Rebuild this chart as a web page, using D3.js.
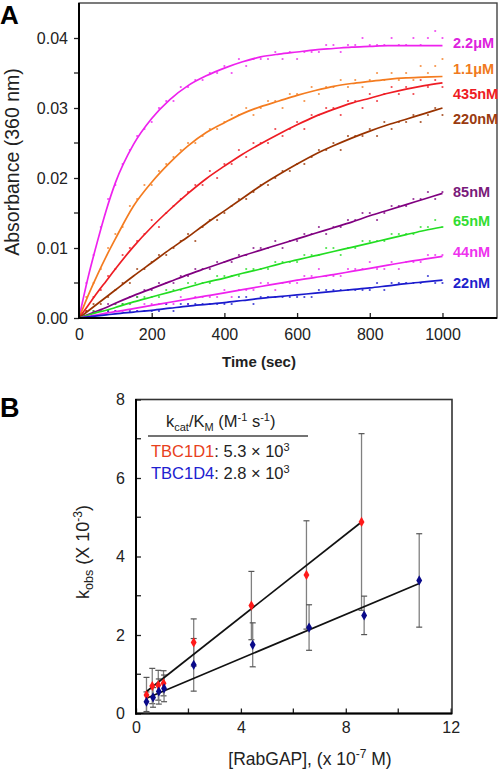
<!DOCTYPE html>
<html><head><meta charset="utf-8">
<script src="https://cdn.jsdelivr.net/npm/d3@7"></script>
<style>
body{margin:0;background:#fff;}
svg{display:block;font-family:Arial,"Liberation Sans",sans-serif;}
</style>
</head><body>
<svg id="c" width="500" height="770"></svg>
<script>
// ---------------- Panel A data (absorbance in milli-units) ----------------
const seriesNames = ["2.2μM","1.1μM","435nM","220nM","85nM","65nM","44nM","22nM"];
const lineColors  = ["#ee22ee","#f47c20","#ee1c24","#993300","#800080","#22dd22","#ee22ee","#1a1acd"];
const labelColors = ["#dd22dd","#f07a20","#ee1c24","#9a3b10","#7a1a7a","#33dd33","#ee33ee","#1f1fcc"];
const labelLevels = [0.0393,0.0356,0.0320,0.0284,0.0181,0.0139,0.0094,0.0051];

const curveTimes = [0,25,50,75,100,150,200,250,300,350,400,450,500,550,600,650,700,750,800,850,900,950,1000];
const fit2200 = [0,5.8,10.8,15.4,19.3,24.8,28.5,31.2,33.2,34.6,35.7,36.6,37.3,37.7,38.0,38.3,38.5,38.7,38.8,38.9,38.9,38.9,38.9];
const fit1100 = [0,3.2,6.1,8.8,11.3,16.0,19.4,22.2,24.6,26.5,27.9,29.2,30.2,31.0,31.8,32.5,33.1,33.5,33.8,34.1,34.3,34.4,34.5];
const fit435  = [0,1.8,3.6,5.3,7.0,10.2,13.0,15.5,17.8,19.9,21.7,23.4,24.9,26.3,27.6,28.8,29.8,30.7,31.4,32.1,32.7,33.2,33.6];
const fit220  = [0,1.0,2.0,3.0,4.0,6.0,7.9,9.8,11.6,13.5,15.3,17.1,18.9,20.5,22.0,23.4,24.6,25.7,26.7,27.6,28.4,29.2,30.0];
const fit85   = [0,0.5,1.0,1.5,2.1,3.2,4.2,5.2,6.2,7.1,8.0,8.9,9.7,10.5,11.3,12.1,12.9,13.7,14.6,15.4,16.2,17.0,17.8];
const fit65   = [0,0.4,0.8,1.1,1.5,2.3,3.0,3.7,4.4,5.1,5.7,6.4,7.0,7.7,8.3,8.9,9.5,10.1,10.7,11.3,11.9,12.5,13.0];
const fit44   = [0,0.2,0.45,0.7,0.9,1.35,1.8,2.25,2.7,3.15,3.6,4.05,4.5,4.95,5.4,5.8,6.2,6.65,7.1,7.55,8.0,8.4,8.8];
const fit22   = [0,0.15,0.3,0.45,0.6,0.85,1.1,1.4,1.7,1.95,2.2,2.5,2.8,3.05,3.3,3.55,3.8,4.05,4.3,4.6,4.9,5.15,5.4];

// raw readings every 20 s (t = 20 ... 1000), milli-absorbance
const dotTimes = d3.range(20, 1001, 20);
const obs2200 = [5,9,13,17,19,22,24,26,27,28,30,31,31,33,33,34,34,35,35,36,35,37,36,37,37,37,38,37,38,37,38,38,38,39,39,38,39,39,40,39,39,39,40,39,39,40,39,40,41,40];
const obs1100 = [3,5,7,10,12,13,16,17,19,19,21,22,23,24,25,25,26,27,27,28,29,29,30,29,30,31,31,30,32,32,31,33,32,33,33,34,33,34,33,34,35,34,35,34,35,34,36,35,36,37];
const obs435  = [1,3,4,6,7,9,10,11,12,14,13,15,16,17,18,19,19,21,20,22,22,24,23,25,25,25,27,26,27,28,27,29,29,30,30,29,31,31,30,32,31,32,33,32,33,32,34,33,34,33];
const obs220  = [1,2,2,3,4,5,5,7,7,8,9,9,10,11,12,11,13,14,14,15,16,17,17,18,19,19,20,21,21,22,22,23,24,24,25,24,26,26,26,27,26,28,27,28,28,29,28,29,30,29];
const obs85   = [0,1,1,2,2,2,3,3,4,4,5,5,5,6,6,7,7,7,8,8,8,9,9,10,10,10,11,10,11,11,12,12,13,12,13,13,14,14,15,15,14,15,16,16,16,17,17,18,17,18];
const obs65   = [0,1,1,1,2,2,2,3,3,3,3,4,4,4,5,5,5,5,6,6,6,6,7,7,7,7,8,8,8,8,9,9,9,10,10,9,10,10,11,11,11,11,12,12,12,12,13,13,14,13];
const obs44   = [0,0,1,1,1,1,2,1,2,2,2,2,2,3,2,3,3,3,3,4,3,4,4,4,5,5,4,5,5,5,6,6,7,6,6,6,7,7,7,8,7,7,8,7,8,8,8,9,9,9];
const obs22   = [0,0,0,1,1,0,1,1,1,1,1,2,1,2,2,2,2,2,2,2,2,3,3,2,3,3,3,3,3,3,3,3,4,4,4,4,4,4,4,4,5,4,5,5,5,5,5,6,5,5];

const fits = [fit2200,fit1100,fit435,fit220,fit85,fit65,fit44,fit22];
const obs  = [obs2200,obs1100,obs435,obs220,obs85,obs65,obs44,obs22];

const xTicksA = [0,200,400,600,800,1000];
const yTicksA = [0,0.01,0.02,0.03,0.04];
const yMinorA = [0.005,0.015,0.025,0.035];

// ---------------- Panel B data ----------------
const concD1 = [0.4,0.62,0.85,1.05,2.2,4.4,6.5,8.6];
const kobsD1 = [0.47,0.70,0.72,0.77,1.81,2.75,3.53,4.88];
const errD1  = [0.45,0.45,0.38,0.32,0.60,0.87,1.38,2.25];
const concD4 = [0.4,0.65,0.87,1.07,2.2,4.45,6.6,8.7,10.8];
const kobsD4 = [0.30,0.41,0.56,0.64,1.24,1.75,2.19,2.50,3.39];
const errD4  = [0.25,0.25,0.32,0.34,0.67,0.56,0.58,0.49,1.19];
const fitXD1 = [0.4,8.6],  fitYD1 = [0.56,4.88];
const fitXD4 = [0.4,10.8], fitYD4 = [0.39,3.31];
const xTicksB = [0,4,8,12], xMinorB = [2,6,10];
const yTicksB = [0,2,4,6,8], yMinorB = [1,3,5,7];

// ---------------- drawing ----------------
const svg = d3.select("#c");
const ink = "#222";

// Panel A
const xA = d3.scaleLinear().domain([0,1150]).range([79,497]);
const yA = d3.scaleLinear().domain([0,0.045]).range([318,3]);

svg.append("rect").attr("x",79).attr("y",3).attr("width",418).attr("height",315)
  .attr("fill","none").attr("stroke","#444").attr("stroke-width",1.4);

const line = d3.line().curve(d3.curveMonotoneX);
fits.forEach((f,i)=>{
  const dg = svg.append("g");
  obs[i].forEach((v,j)=>{
    dg.append("circle").attr("cx",xA(dotTimes[j])).attr("cy",yA(v/1000)).attr("r",1.1)
      .attr("fill",lineColors[i]).attr("opacity",0.8);
  });
});
fits.forEach((f,i)=>{
  svg.append("path").attr("d", line(curveTimes.map((t,j)=>[xA(t), yA(f[j]/1000)])))
    .attr("fill","none").attr("stroke",lineColors[i]).attr("stroke-width",1.7);
});

seriesNames.forEach((n,i)=>{
  svg.append("text").attr("x",453).attr("y",yA(labelLevels[i])).attr("dy","0.36em")
    .attr("font-size",14.5).attr("font-weight","bold").attr("fill",labelColors[i]).text(n);
});

const gyA = svg.append("g").attr("transform","translate(79,0)")
  .call(d3.axisLeft(yA).tickValues(yTicksA).tickFormat(d3.format(".2f")).tickSize(5).tickPadding(6));
yMinorA.forEach(v=>gyA.append("line").attr("x1",-5).attr("x2",0).attr("y1",yA(v)).attr("y2",yA(v)));
const gxA = svg.append("g").attr("transform","translate(0,318)")
  .call(d3.axisBottom(xA).tickValues(xTicksA).tickFormat(d3.format("d")).tickSizeInner(-5).tickSizeOuter(0).tickPadding(11));
[gyA,gxA].forEach(g=>{
  g.select(".domain").remove();
  g.selectAll("line").attr("stroke",ink).attr("stroke-width",1.3);
  g.selectAll("text").attr("font-size",16).attr("fill",ink).attr("font-family","Arial, 'Liberation Sans', sans-serif");
});
svg.append("line").attr("x1",79).attr("x2",79).attr("y1",3).attr("y2",319).attr("stroke","#000").attr("stroke-width",2);
svg.append("line").attr("x1",78).attr("x2",497).attr("y1",318).attr("y2",318).attr("stroke","#000").attr("stroke-width",2);

svg.append("text").attr("transform","translate(18.5,162) rotate(-90)").attr("text-anchor","middle")
  .attr("font-size",19.5).attr("fill",ink).text("Absorbance (360 nm)");
svg.append("text").attr("x",259).attr("y",367).attr("text-anchor","middle")
  .attr("font-size",15).attr("font-weight","bold").attr("fill",ink).text("Time (sec)");
svg.append("text").attr("x",0).attr("y",24).attr("font-size",26).attr("font-weight","bold").text("A");

// Panel B
const xB = d3.scaleLinear().domain([0,12.05]).range([136,452]);
const yB = d3.scaleLinear().domain([0,8]).range([713.5,399.5]);

svg.append("text").attr("x",0).attr("y",417).attr("font-size",27).attr("font-weight","bold").text("B");

svg.append("rect").attr("x",136).attr("y",399.5).attr("width",316).attr("height",314)
  .attr("fill","none").attr("stroke","#333").attr("stroke-width",1.6);

const gyB = svg.append("g").attr("transform","translate(136,0)")
  .call(d3.axisLeft(yB).tickValues(yTicksB).tickSizeInner(-5).tickSizeOuter(0).tickPadding(11));
yMinorB.forEach(v=>gyB.append("line").attr("x1",0).attr("x2",5).attr("y1",yB(v)).attr("y2",yB(v)));
const gxB = svg.append("g").attr("transform","translate(0,713.5)")
  .call(d3.axisBottom(xB).tickValues(xTicksB).tickSizeInner(-5).tickSizeOuter(0).tickPadding(8));
xMinorB.forEach(v=>gxB.append("line").attr("x1",xB(v)).attr("x2",xB(v)).attr("y1",0).attr("y2",-5));
[gyB,gxB].forEach(g=>{
  g.select(".domain").remove();
  g.selectAll("line").attr("stroke",ink).attr("stroke-width",1.3);
  g.selectAll("text").attr("font-size",16).attr("fill",ink).attr("font-family","Arial, 'Liberation Sans', sans-serif");
});
svg.append("line").attr("x1",136).attr("x2",136).attr("y1",399).attr("y2",714.5).attr("stroke","#000").attr("stroke-width",2);
svg.append("line").attr("x1",135).attr("x2",452).attr("y1",713.5).attr("y2",713.5).attr("stroke","#000").attr("stroke-width",2);

function errBars(cx, ky, ee){
  const g = svg.append("g");
  cx.forEach((c,i)=>{
    const x = xB(c), y1 = yB(Math.max(0,ky[i]-ee[i])), y2 = yB(ky[i]+ee[i]);
    g.append("line").attr("x1",x).attr("x2",x).attr("y1",y1).attr("y2",y2).attr("stroke","#808080").attr("stroke-width",1.3);
    [y1,y2].forEach(y=>g.append("line").attr("x1",x-3).attr("x2",x+3).attr("y1",y).attr("y2",y).attr("stroke","#555").attr("stroke-width",1.2));
  });
}
errBars(concD1,kobsD1,errD1);
errBars(concD4,kobsD4,errD4);

svg.append("line").attr("x1",xB(fitXD1[0])).attr("y1",yB(fitYD1[0])).attr("x2",xB(fitXD1[1])).attr("y2",yB(fitYD1[1]))
  .attr("stroke","#111").attr("stroke-width",1.7);
svg.append("line").attr("x1",xB(fitXD4[0])).attr("y1",yB(fitYD4[0])).attr("x2",xB(fitXD4[1])).attr("y2",yB(fitYD4[1]))
  .attr("stroke","#111").attr("stroke-width",1.7);

const diamond = d3.symbol().type(d3.symbolDiamond).size(30);
concD1.forEach((c,i)=>svg.append("path").attr("d",diamond()).attr("transform",`translate(${xB(c)},${yB(kobsD1[i])})`).attr("fill","#ff1a1a"));
concD4.forEach((c,i)=>svg.append("path").attr("d",diamond()).attr("transform",`translate(${xB(c)},${yB(kobsD4[i])})`).attr("fill","#0a0a8a"));

// legend
const lg = svg.append("g").attr("fill",ink).attr("font-size",16.5);
const t1 = lg.append("text").attr("x",166).attr("y",427);
t1.append("tspan").text("k");
t1.append("tspan").attr("font-size",11).attr("dy",4).text("cat");
t1.append("tspan").attr("dy",-4).text("/K");
t1.append("tspan").attr("font-size",11).attr("dy",4).text("M");
t1.append("tspan").attr("dy",-4).text(" (M");
t1.append("tspan").attr("font-size",11).attr("dy",-6).text("-1");
t1.append("tspan").attr("dy",6).text(" s");
t1.append("tspan").attr("font-size",11).attr("dy",-6).text("-1");
t1.append("tspan").attr("dy",6).text(")");
lg.append("line").attr("x1",148).attr("x2",308).attr("y1",436).attr("y2",436).attr("stroke","#444").attr("stroke-width",1.3);
const t2 = lg.append("text").attr("x",151).attr("y",457);
t2.append("tspan").attr("fill","#e8401c").text("TBC1D1");
t2.append("tspan").text(": 5.3 × 10");
t2.append("tspan").attr("font-size",11).attr("dy",-6).text("3");
const t3 = lg.append("text").attr("x",151).attr("y",479);
t3.append("tspan").attr("fill","#2020d0").text("TBC1D4");
t3.append("tspan").text(": 2.8 × 10");
t3.append("tspan").attr("font-size",11).attr("dy",-6).text("3");

// axis titles B
const yt = svg.append("text").attr("transform","translate(89,552) rotate(-90)").attr("text-anchor","middle")
  .attr("font-size",18).attr("fill",ink);
yt.append("tspan").text("k");
yt.append("tspan").attr("font-size",12.5).attr("dy",4).text("obs");
yt.append("tspan").attr("dy",-4).text(" (X 10");
yt.append("tspan").attr("font-size",12).attr("dy",-7).text("-3");
yt.append("tspan").attr("dy",7).text(")");

const xt = svg.append("text").attr("x",310).attr("y",765).attr("text-anchor","middle")
  .attr("font-size",17.5).attr("fill",ink);
xt.append("tspan").text("[RabGAP], (x 10");
xt.append("tspan").attr("font-size",12).attr("dy",-7).text("-7");
xt.append("tspan").attr("dy",7).text(" M)");
</script>
</body></html>
